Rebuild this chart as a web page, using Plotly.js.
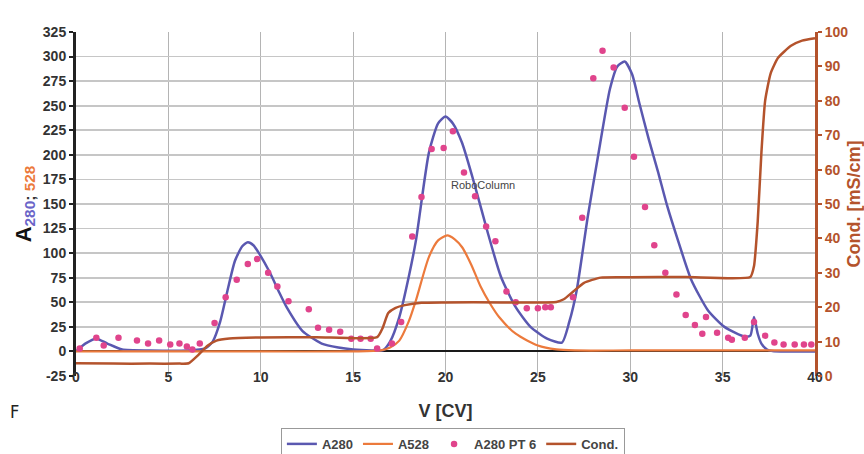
<!DOCTYPE html>
<html>
<head>
<meta charset="utf-8">
<script src="https://cdn.plot.ly/plotly-3.0.1.min.js"></script>
<style>html,body{margin:0;padding:0;background:#fff;}#chart{width:864px;height:454px;}</style>
</head>
<body>
<div id="chart"></div>
<script>
// A280 absorbance trace
const a280X = [0, 0.5, 1.1, 1.7, 2.5, 4, 6, 7.0, 7.4, 7.8, 8.2, 8.6, 9.0, 9.3, 9.6, 9.9, 10.5, 11.0, 11.4, 12.25, 13.3, 14.2, 15.0, 16.0, 16.6, 17.0, 17.5, 18.0, 18.4, 19.1, 19.6, 20.0, 20.4, 20.9, 21.6, 22.3, 23.0, 23.8, 24.6, 25.5, 26.3, 26.7, 27.1, 27.7, 28.25, 28.9, 29.3, 29.7, 30.1, 30.5, 31.0, 31.5, 32.0, 32.6, 33.3, 34.2, 35.1, 36.2, 36.5, 36.7, 36.9, 37.1, 37.4, 37.7, 38.5, 40];
const a280Y = [0, 8, 13, 8, 2, 1, 1, 3, 10, 30, 62, 92, 107, 111, 108, 100, 80, 60, 45, 21, 8, 4, 2, 1, 1, 10, 35, 75, 113, 202, 232, 239, 232, 212, 168, 120, 76, 45, 25, 13, 9, 30, 62, 137, 198, 267, 290, 295, 282, 252, 216, 183, 148, 112, 73, 42, 25, 15, 16, 35, 18, 8, 2, 0.5, 0, 0];

// A528 absorbance trace
const a528X = [0, 5, 10, 15, 16.5, 17.0, 17.5, 18.0, 18.4, 19.1, 19.6, 20.1, 20.5, 20.9, 21.4, 21.9, 22.4, 22.9, 23.8, 25.0, 26.0, 27, 30, 35, 40];
const a528Y = [0, 0, 0, 0, 1, 4, 11, 30, 52, 96, 113, 118, 114, 106, 88, 66, 49, 35, 18, 6, 2, 1, 1, 1, 1];

// A280 PT 6 points
const ptX = [0.2, 1.1, 1.5, 2.3, 3.3, 3.9, 4.5, 5.1, 5.6, 6.0, 6.3, 6.7, 7.5, 8.1, 8.7, 9.3, 9.8, 10.4, 10.9, 11.5, 12.6, 13.1, 13.7, 14.3, 14.9, 15.4, 15.95, 16.3, 17.1, 17.6, 18.2, 18.7, 19.25, 19.9, 20.4, 21.0, 21.6, 22.2, 22.7, 23.3, 23.8, 24.4, 25.0, 25.4, 25.7, 26.9, 27.4, 28.0, 28.5, 29.1, 29.7, 30.2, 30.8, 31.3, 31.9, 32.5, 33.0, 33.5, 33.9, 34.1, 34.7, 35.3, 35.5, 36.2, 36.7, 37.3, 37.8, 38.3, 38.9, 39.4, 39.8];
const ptY = [3, 14, 6, 14, 11, 8, 11, 7, 8, 5, 2, 8, 29, 55, 73, 89, 94, 80, 66, 51, 43, 24, 22, 20, 13, 13, 13, 3, 8, 30, 117, 157, 206, 207, 224, 182, 158, 127, 112, 61, 50, 44, 44, 45, 45, 55, 136, 278, 306, 289, 248, 198, 147, 108, 80, 58, 37, 27, 18, 35, 19, 14, 12, 14, 30, 16, 9, 7, 7, 7, 7];

// Conductivity (right axis, mS/cm)
const condX = [0, 2, 4, 5.6, 6.1, 6.6, 7.1, 7.6, 8.3, 10, 13, 16.3, 16.6, 16.9, 17.3, 17.8, 18.7, 20, 23, 26.0, 26.4, 26.9, 27.5, 28.4, 30, 33, 36.5, 36.7, 36.9, 37.1, 37.3, 37.6, 38.0, 38.7, 39.3, 40];
const condY = [3.7, 3.6, 3.6, 3.6, 3.7, 6, 8.7, 10.3, 10.9, 11.2, 11.3, 11.3, 14, 18.3, 19.8, 20.6, 21.3, 21.4, 21.4, 21.5, 22.3, 24.5, 27.1, 28.6, 28.7, 28.8, 28.8, 32, 45, 65, 80, 88, 92.5, 96, 97.5, 98.2];

const xTicks = [0, 5, 10, 15, 20, 25, 30, 35, 40];
const yLeftTicks = [-25, 0, 25, 50, 75, 100, 125, 150, 175, 200, 225, 250, 275, 300, 325];
const yRightTicks = [0, 10, 20, 30, 40, 50, 60, 70, 80, 90, 100];

const C_BLUE = '#5a58b0', C_ORANGE = '#ec7a3c', C_PINK = '#e0448c', C_BROWN = '#b4532c';
const FONT = 'Liberation Sans, Arial, sans-serif';

const traces = [
  {x: a280X, y: a280Y, name: 'A280', type: 'scatter', mode: 'lines', line: {color: C_BLUE, width: 2.5, shape: 'spline', smoothing: 0.6}},
  {x: a528X, y: a528Y, name: 'A528', type: 'scatter', mode: 'lines', line: {color: C_ORANGE, width: 2.2, shape: 'spline', smoothing: 0.7}},
  {x: ptX, y: ptY, name: 'A280 PT 6', type: 'scatter', mode: 'markers', marker: {color: C_PINK, size: 6.5, symbol: 'circle'}},
  {x: condX, y: condY, name: 'Cond.', type: 'scatter', mode: 'lines', yaxis: 'y2', line: {color: C_BROWN, width: 2.5, shape: 'spline', smoothing: 0.5}}
];

const layout = {
  width: 864, height: 454,
  margin: {l: 76, r: 49, t: 32, b: 78, autoexpand: false},
  paper_bgcolor: '#fff', plot_bgcolor: '#fff',
  font: {family: FONT, color: '#333'},
  showlegend: true,
  legend: {orientation: 'h', x: 0.51, xanchor: 'center', y: -0.151, yanchor: 'top',
    bordercolor: '#999', borderwidth: 1, bgcolor: '#fff',
    font: {family: FONT, size: 13, color: '#444', weight: 'bold'}, itemwidth: 30, tracegroupgap: 0},
  xaxis: {
    range: [0, 40], tickvals: xTicks, ticktext: xTicks.map(String),
    showgrid: true, gridcolor: '#b4b4b4', gridwidth: 1,
    zeroline: false, showline: false, ticks: '',
    ticklabelstandoff: -9,
    tickfont: {family: FONT, size: 14, color: '#333', weight: 'bold'},
    title: {text: 'V [CV]', font: {family: FONT, size: 18, color: '#333', weight: 'bold'}, standoff: 20}
  },
  yaxis: {
    range: [-25, 325], tickvals: yLeftTicks, ticktext: yLeftTicks.map(String),
    showgrid: true, gridcolor: '#c6c6c6', gridwidth: 1.6,
    zeroline: true, zerolinecolor: '#1a1a1a', zerolinewidth: 2,
    showline: true, linecolor: '#222', linewidth: 3,
    ticks: 'outside', ticklen: 4, tickwidth: 2, tickcolor: '#222',
    tickfont: {family: FONT, size: 14, color: '#333', weight: 'bold'},
    title: {text: 'A<sub><span style="color:#6a64c8">280</span><span style="color:#333">; </span><span style="color:#ec7a3c">528</span></sub>',
      font: {family: FONT, size: 22, color: '#111', weight: 'bold'}, standoff: 6}
  },
  yaxis2: {
    overlaying: 'y', side: 'right', range: [0, 100],
    tickvals: yRightTicks, ticktext: yRightTicks.map(String),
    showgrid: false, zeroline: false,
    showline: true, linecolor: C_BROWN, linewidth: 3,
    ticks: 'outside', ticklen: 4, tickwidth: 2, tickcolor: C_BROWN,
    tickfont: {family: FONT, size: 14, color: C_BROWN, weight: 'bold'},
    title: {text: 'Cond. [mS/cm]', font: {family: FONT, size: 18, color: C_BROWN, weight: 'bold'}, standoff: 4}
  },
  annotations: [
    {x: 22.05, y: 169, xref: 'x', yref: 'y', text: 'RoboColumn', showarrow: false,
      font: {family: FONT, size: 11, color: '#444'}},
    {x: -68 / 739, y: -0.102, xref: 'paper', yref: 'paper', xanchor: 'left', yanchor: 'middle',
      text: 'F', showarrow: false, font: {family: 'DejaVu Sans Condensed, DejaVu Sans, sans-serif', size: 18, color: '#222'}}
  ]
};

Plotly.newPlot('chart', traces, layout, {displayModeBar: false, staticPlot: true});
</script>
</body>
</html>
